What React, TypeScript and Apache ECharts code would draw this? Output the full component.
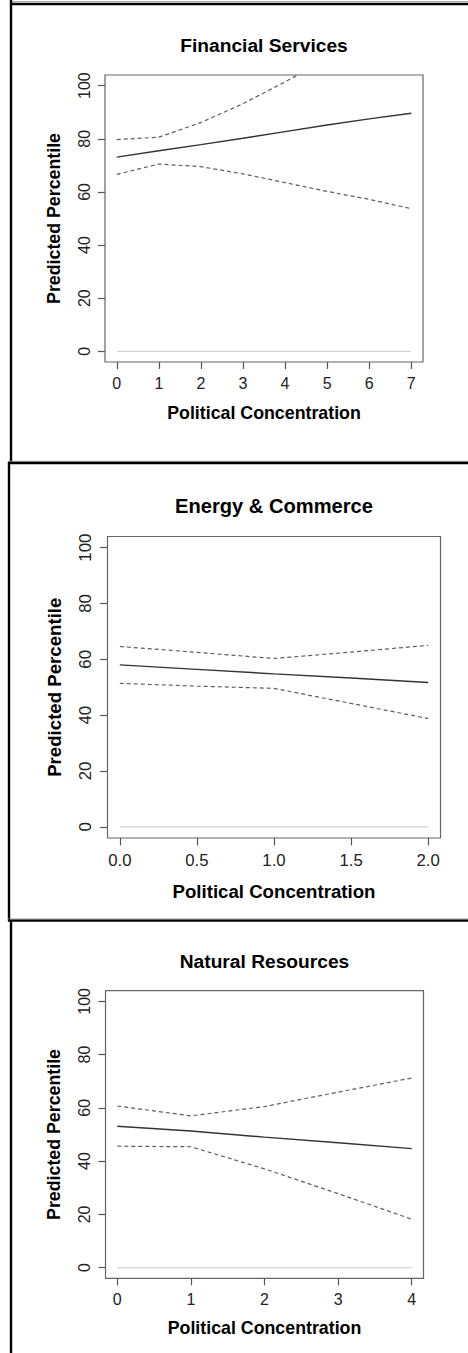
import React, { useEffect, useRef } from "react";
import * as echarts from "echarts";

const W = 468;
const H = 1353;
const FONT = '"Liberation Sans", Arial, Helvetica, sans-serif';

// ---- Data: Financial Services ----
const fsX = [0, 1, 2, 3, 4, 5, 6, 7];
const fsFit = [73.1, 75.5, 77.8, 80.2, 82.7, 85.2, 87.5, 89.6];
const fsUpper = [79.7, 80.6, 86.1, 93.2, 101.4, 110.2, 117.8, 125.5];
const fsLower = [66.6, 70.5, 69.5, 66.8, 63.5, 60.2, 57.2, 53.7];
const fsZero = [0, 0, 0, 0, 0, 0, 0, 0];
const fsXTicks = [0, 1, 2, 3, 4, 5, 6, 7];
const fsXTickLabels = ["0", "1", "2", "3", "4", "5", "6", "7"];

// ---- Data: Energy & Commerce ----
const ecX = [0, 0.5, 1, 1.5, 2];
const ecFit = [58.0, 56.4, 54.8, 53.3, 51.7];
const ecUpper = [64.6, 62.5, 60.3, 62.6, 65.0];
const ecLower = [51.4, 50.4, 49.6, 44.2, 38.8];
const ecZero = [0, 0, 0, 0, 0];
const ecXTicks = [0, 0.5, 1, 1.5, 2];
const ecXTickLabels = ["0.0", "0.5", "1.0", "1.5", "2.0"];

// ---- Data: Natural Resources ----
const nrX = [0, 1, 2, 3, 4];
const nrFit = [53.1, 51.3, 49.0, 46.9, 44.7];
const nrUpper = [60.7, 57.0, 60.5, 65.9, 71.2];
const nrLower = [45.6, 45.4, 37.1, 27.8, 18.2];
const nrZero = [0, 0, 0, 0, 0];
const nrXTicks = [0, 1, 2, 3, 4];
const nrXTickLabels = ["0", "1", "2", "3", "4"];

const yTicks = [0, 20, 40, 60, 80, 100];
const yTickLabels = ["0", "20", "40", "60", "80", "100"];

const panelTitles = ["Financial Services", "Energy & Commerce", "Natural Resources"];
const xAxisTitle = "Political Concentration";
const yAxisTitle = "Predicted Percentile";

// ---- Layout (positions / sizes only) ----
const layouts = [
  { grid: { left: 105, top: 75, width: 318, height: 287 }, xMin: -0.28, xMax: 7.28, s: 1, titleY: 45.5, xTitleY: 412.7, yTitleX: 54 },
  { grid: { left: 107.5, top: 536.5, width: 333, height: 301.5 }, xMin: -0.08, xMax: 2.08, s: 1.048, titleY: 505.5, xTitleY: 891.2, yTitleX: 54 },
  { grid: { left: 105.5, top: 990.7, width: 318, height: 287.6 }, xMin: -0.16, xMax: 4.16, s: 1, titleY: 961.2, xTitleY: 1328.3, yTitleX: 54 },
];

const panelData = [
  { x: fsX, fit: fsFit, upper: fsUpper, lower: fsLower, zero: fsZero, xTicks: fsXTicks, xLabels: fsXTickLabels },
  { x: ecX, fit: ecFit, upper: ecUpper, lower: ecLower, zero: ecZero, xTicks: ecXTicks, xLabels: ecXTickLabels },
  { x: nrX, fit: nrFit, upper: nrUpper, lower: nrLower, zero: nrZero, xTicks: nrXTicks, xLabels: nrXTickLabels },
];

function pairs(xs: number[], ys: number[]) {
  return xs.map((x, i) => [x, ys[i]]);
}

function buildOption() {
  const grid: any[] = [];
  const xAxis: any[] = [];
  const yAxis: any[] = [];
  const series: any[] = [];
  const graphic: any[] = [];

  layouts.forEach((L, i) => {
    const d = panelData[i];
    const tickFs = 16 * L.s;
    const labFs = 17.8 * L.s;
    const titleFs = 19.2 * L.s;
    grid.push({
      ...L.grid,
      show: true,
      borderColor: "#666",
      borderWidth: 1.2,
      backgroundColor: "rgba(0,0,0,0)",
      containLabel: false,
    });
    xAxis.push({
      type: "value",
      gridIndex: i,
      min: L.xMin,
      max: L.xMax,
      axisLine: { show: false, onZero: false },
      axisTick: { show: true, inside: false, length: 7 * L.s, customValues: d.xTicks, lineStyle: { color: "#555", width: 1.2 } },
      axisLabel: {
        show: true,
        customValues: d.xTicks,
        margin: 13 * L.s,
        fontSize: tickFs,
        fontFamily: FONT,
        color: "#222",
        formatter: (v: number) => {
          const k = d.xTicks.indexOf(v);
          return k >= 0 ? d.xLabels[k] : String(v);
        },
      },
      splitLine: { show: false },
    });
    yAxis.push({
      type: "value",
      gridIndex: i,
      min: -4,
      max: 104,
      axisLine: { show: false, onZero: false },
      axisTick: { show: true, inside: false, length: 7 * L.s, customValues: yTicks, lineStyle: { color: "#555", width: 1.2 } },
      axisLabel: {
        show: true,
        customValues: yTicks,
        rotate: 90,
        margin: 13 * L.s,
        fontSize: tickFs,
        fontFamily: FONT,
        color: "#222",
        formatter: (v: number) => {
          const k = yTicks.indexOf(v);
          return k >= 0 ? yTickLabels[k] : String(v);
        },
      },
      splitLine: { show: false },
    });
    series.push({
      type: "line", xAxisIndex: i, yAxisIndex: i, data: pairs(d.x, d.zero),
      symbol: "none", lineStyle: { color: "#d4d4d4", width: 1.2 }, z: 1, silent: true,
    });
    series.push({
      type: "line", xAxisIndex: i, yAxisIndex: i, data: pairs(d.x, d.lower),
      symbol: "none", lineStyle: { color: "#5e5e5e", width: 1.2, type: [4, 3] }, z: 2, silent: true,
    });
    series.push({
      type: "line", xAxisIndex: i, yAxisIndex: i, data: pairs(d.x, d.upper),
      symbol: "none", lineStyle: { color: "#5e5e5e", width: 1.2, type: [4, 3] }, z: 2, silent: true,
    });
    series.push({
      type: "line", xAxisIndex: i, yAxisIndex: i, data: pairs(d.x, d.fit),
      symbol: "none", lineStyle: { color: "#333", width: 1.4 }, z: 3, silent: true,
    });

    const cx = L.grid.left + L.grid.width / 2;
    const cy = L.grid.top + L.grid.height / 2;
    graphic.push({
      type: "text", x: cx, y: L.titleY, silent: true,
      style: { text: panelTitles[i], x: 0, y: 0, fill: "#000", font: `bold ${titleFs}px ${FONT}`, align: "center", verticalAlign: "middle", textAlign: "center", textVerticalAlign: "middle" },
    });
    graphic.push({
      type: "text", x: cx, y: L.xTitleY, silent: true,
      style: { text: xAxisTitle, x: 0, y: 0, fill: "#000", font: `bold ${labFs}px ${FONT}`, align: "center", verticalAlign: "middle", textAlign: "center", textVerticalAlign: "middle" },
    });
    graphic.push({
      type: "text", x: L.yTitleX, y: cy, rotation: Math.PI / 2, silent: true,
      style: { text: yAxisTitle, x: 0, y: 0, fill: "#000", font: `bold ${labFs}px ${FONT}`, align: "center", verticalAlign: "middle", textAlign: "center", textVerticalAlign: "middle" },
    });
  });

  // frame lines of the stitched panels
  const seg = (x1: number, y1: number, x2: number, y2: number, color: string, w: number) => ({
    type: "line", silent: true, shape: { x1, y1, x2, y2 }, style: { stroke: color, lineWidth: w },
  });
  graphic.push(seg(11, 1.5, W, 1.5, "#aaa", 1));
  graphic.push(seg(10, 4, W, 4, "#000", 2.4));
  graphic.push(seg(11, 0, 11, 463, "#000", 2.4));
  graphic.push(seg(8, 461.3, W, 461.3, "#999", 1));
  graphic.push(seg(8, 463, W, 463, "#000", 2.4));
  graphic.push(seg(9, 462, 9, 921, "#000", 2.4));
  graphic.push(seg(8, 919, W, 919, "#999", 1));
  graphic.push(seg(8, 920.6, W, 920.6, "#000", 2.4));
  graphic.push(seg(11, 920, 11, H, "#000", 2.4));

  return { animation: false, backgroundColor: "#fff", grid, xAxis, yAxis, series, graphic };
}

export default function App() {
  const ref = useRef<HTMLDivElement>(null);
  useEffect(() => {
    document.body.style.margin = "0";
    if (!ref.current) return;
    const chart = echarts.init(ref.current, undefined, { renderer: "svg", width: W, height: H });
    chart.setOption(buildOption() as any);
    return () => chart.dispose();
  }, []);
  return <div ref={ref} style={{ width: W, height: H }} />;
}
